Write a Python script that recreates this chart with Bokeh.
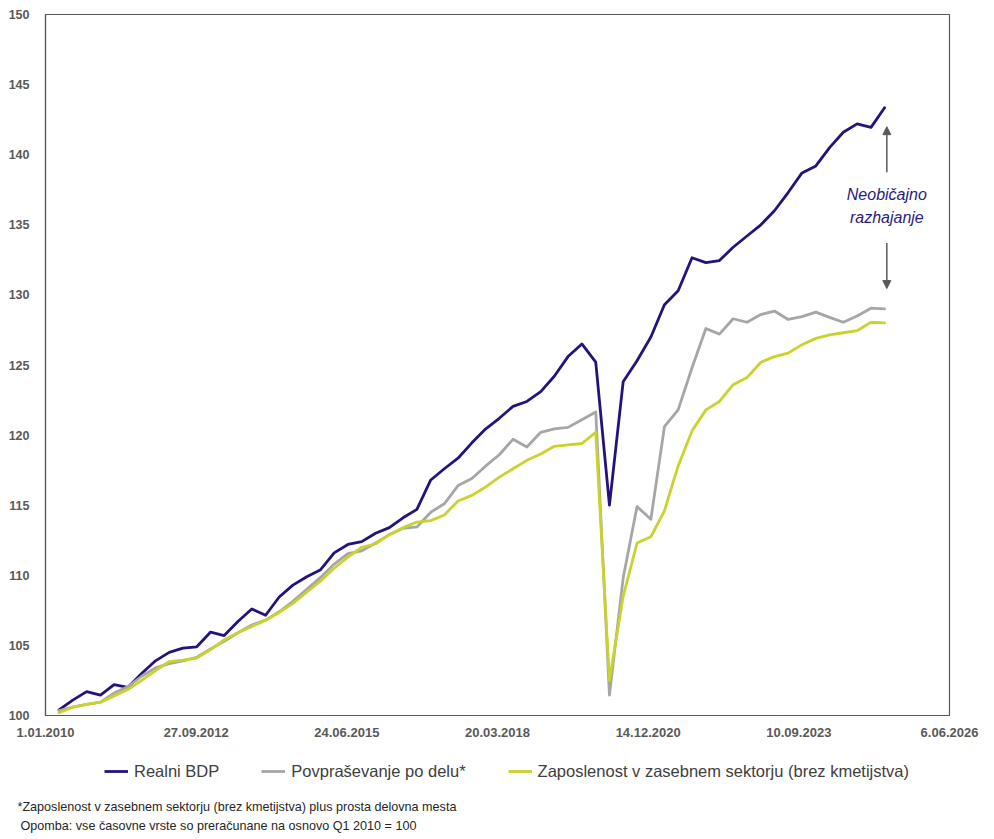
import pandas as pd
from bokeh.plotting import figure
from bokeh.layouts import column
from bokeh.models import (Range1d, FixedTicker, Legend, LegendItem, Label, Arrow,
                          NormalHead, ColumnDataSource, Title)
from bokeh.embed import file_html
from bokeh.resources import INLINE

# ---------------- data (quarterly, index Q1 2010 = 100) ----------------
dates = pd.date_range("2010-04-01", "2025-04-01", freq="QS")

realni_bdp = [
    100.4, 101.1, 101.7, 101.45, 102.2, 102.0, 103.0, 103.9, 104.5, 104.8,
    104.9, 105.95, 105.7, 106.7, 107.6, 107.15, 108.45, 109.3, 109.9, 110.4,
    111.6, 112.2, 112.4, 113.0, 113.4, 114.1, 114.7, 116.8, 117.6, 118.35,
    119.45, 120.45, 121.2, 122.05, 122.4, 123.1, 124.2, 125.6, 126.5, 125.2,
    115.0, 123.8, 125.3, 127.0, 129.3, 130.3, 132.65, 132.3, 132.45, 133.4,
    134.2, 135.0, 136.0, 137.3, 138.7, 139.2, 140.5, 141.6, 142.2, 141.95,
    143.35,
]

povprasevanje_po_delu = [
    100.35, 100.6, 100.8, 100.95, 101.6, 102.05, 102.8, 103.4, 103.7, 103.9,
    104.15, 104.75, 105.3, 105.9, 106.45, 106.8, 107.4, 108.15, 109.0, 109.85,
    110.8, 111.55, 111.75, 112.3, 112.9, 113.35, 113.45, 114.5, 115.1, 116.4,
    116.9, 117.8, 118.6, 119.7, 119.15, 120.2, 120.45, 120.55, 121.1, 121.65,
    101.45, 109.8, 114.9, 114.0, 120.6, 121.8, 124.8, 127.6, 127.2, 128.3,
    128.05, 128.6, 128.85, 128.25, 128.45, 128.77, 128.4, 128.05, 128.5, 129.05,
    129.0,
]

zaposlenost = [
    100.2, 100.6, 100.8, 100.95, 101.4, 101.85, 102.5, 103.2, 103.85, 103.95,
    104.1, 104.7, 105.4, 105.9, 106.35, 106.8, 107.35, 108.0, 108.8, 109.6,
    110.5, 111.3, 112.0, 112.25, 112.9, 113.4, 113.8, 113.9, 114.3, 115.3,
    115.7, 116.3, 117.0, 117.6, 118.2, 118.65, 119.2, 119.3, 119.4, 120.2,
    102.5, 108.5, 112.3, 112.75, 114.6, 117.8, 120.3, 121.8, 122.4, 123.6,
    124.1, 125.2, 125.6, 125.85, 126.45, 126.9, 127.15, 127.3, 127.45, 128.05,
    128.0,
]

series_names = [
    "Realni BDP",
    "Povpraševanje po delu*",
    "Zaposlenost v zasebnem sektorju (brez kmetijstva)",
]
series_cols = ["bdp", "pov", "zap"]
series_colors = ["#26117D", "#A6A6A6", "#C9D32C"]

x_tick_dates = ["2010-01-01", "2012-09-27", "2015-06-24", "2018-03-20",
                "2020-12-14", "2023-09-10", "2026-06-06"]
x_tick_labels = ["1.01.2010", "27.09.2012", "24.06.2015", "20.03.2018",
                 "14.12.2020", "10.09.2023", "6.06.2026"]
y_ticks = [100, 105, 110, 115, 120, 125, 130, 135, 140, 145, 150]

annotation_lines = ["Neobičajno", "razhajanje"]
footnotes = [
    "*Zaposlenost v zasebnem sektorju (brez kmetijstva) plus prosta delovna mesta",
    "Opomba: vse časovne vrste so preračunane na osnovo Q1 2010 = 100",
]


def ms(d):
    return int(pd.Timestamp(d).value // 10**6)


AX = "#595959"
W = 990

src = ColumnDataSource(dict(x=dates, bdp=realni_bdp, pov=povprasevanje_po_delu,
                            zap=zaposlenost))

# ---------------- main chart ----------------
p = figure(
    width=W, height=745,
    x_axis_type="datetime",
    x_range=Range1d(ms(x_tick_dates[0]), ms(x_tick_dates[-1])),
    y_range=Range1d(100, 150),
    output_backend="svg", toolbar_location=None, title=None,
    min_border_left=45, min_border_right=41, min_border_top=14,
    min_border_bottom=30,
)
p.background_fill_color = "white"
p.border_fill_color = "white"
p.outline_line_color = AX
p.outline_line_width = 1.2
p.xgrid.grid_line_color = None
p.ygrid.grid_line_color = None

for col, color in zip(series_cols, series_colors):
    p.line("x", col, source=src, line_color=color, line_width=2.8,
           line_join="round", line_cap="round")

p.xaxis.ticker = FixedTicker(ticks=[ms(d) for d in x_tick_dates])
p.xaxis.major_label_overrides = {ms(d): lab for d, lab in zip(x_tick_dates, x_tick_labels)}
p.yaxis.ticker = FixedTicker(ticks=y_ticks)
for ax in (p.xaxis[0], p.yaxis[0]):
    ax.axis_line_color = AX
    ax.axis_line_width = 1.2
    ax.major_tick_line_color = None
    ax.minor_tick_line_color = None
    ax.major_label_text_color = AX
    ax.major_label_text_font = "Liberation Sans"
    ax.major_label_text_font_style = "bold"
p.xaxis.major_label_text_font_size = "13px"
p.yaxis.major_label_text_font_size = "12.5px"
p.xaxis.major_label_standoff = 6
p.yaxis.major_label_standoff = 10

# annotation: arrows + text
x_ann = ms(dates[-1]) + 15 * 86400000
head_kw = dict(size=8, fill_color=AX, line_color=AX)
p.add_layout(Arrow(end=NormalHead(**head_kw), x_start=x_ann, y_start=138.75,
                   x_end=x_ann, y_end=142.0, line_color=AX, line_width=1.5))
p.add_layout(Arrow(end=NormalHead(**head_kw), x_start=x_ann, y_start=133.7,
                   x_end=x_ann, y_end=130.45, line_color=AX, line_width=1.5))
for txt, yv in zip(annotation_lines, [137.15, 135.5]):
    p.add_layout(Label(x=x_ann, y=yv, text=txt, text_align="center",
                       text_baseline="middle", text_font="Liberation Sans",
                       text_font_style="italic", text_font_size="16px",
                       text_color="#2A1B7F"))

# ---------------- legend + footnotes strip ----------------
q = figure(
    width=W, height=90, x_range=p.x_range, y_range=p.y_range,
    x_axis_location=None, y_axis_location=None,
    output_backend="svg", toolbar_location=None, title=None,
    min_border=0,
)
q.outline_line_color = None
q.xgrid.grid_line_color = None
q.ygrid.grid_line_color = None
q.background_fill_color = "white"
q.border_fill_color = "white"

legend_renderers = [q.line("x", col, source=src, line_color=c, line_width=2.8, visible=False)
                    for col, c in zip(series_cols, series_colors)]
legend = Legend(
    items=[LegendItem(label=n, renderers=[r]) for n, r in zip(series_names, legend_renderers)],
    location=(59, 16), orientation="horizontal",
    border_line_color=None, background_fill_alpha=0, padding=0, margin=0,
    spacing=42, glyph_width=24, glyph_height=20, label_height=20,
    label_standoff=6, label_text_font="Liberation Sans",
    label_text_font_size="16.5px", label_text_color="#404040",
    label_text_baseline="middle", inactive_fill_alpha=0,
)
q.add_layout(legend)

for txt, off in zip(footnotes, [-28, -25]):
    q.add_layout(Title(text=txt, align="left", offset=off, standoff=3,
                       vertical_align="middle", text_font="Liberation Sans",
                       text_font_style="normal", text_font_size="12.6px",
                       text_color="#262626"), "below")

layout = column(p, q, spacing=0)
open("out.html", "w").write(file_html(layout, INLINE))
